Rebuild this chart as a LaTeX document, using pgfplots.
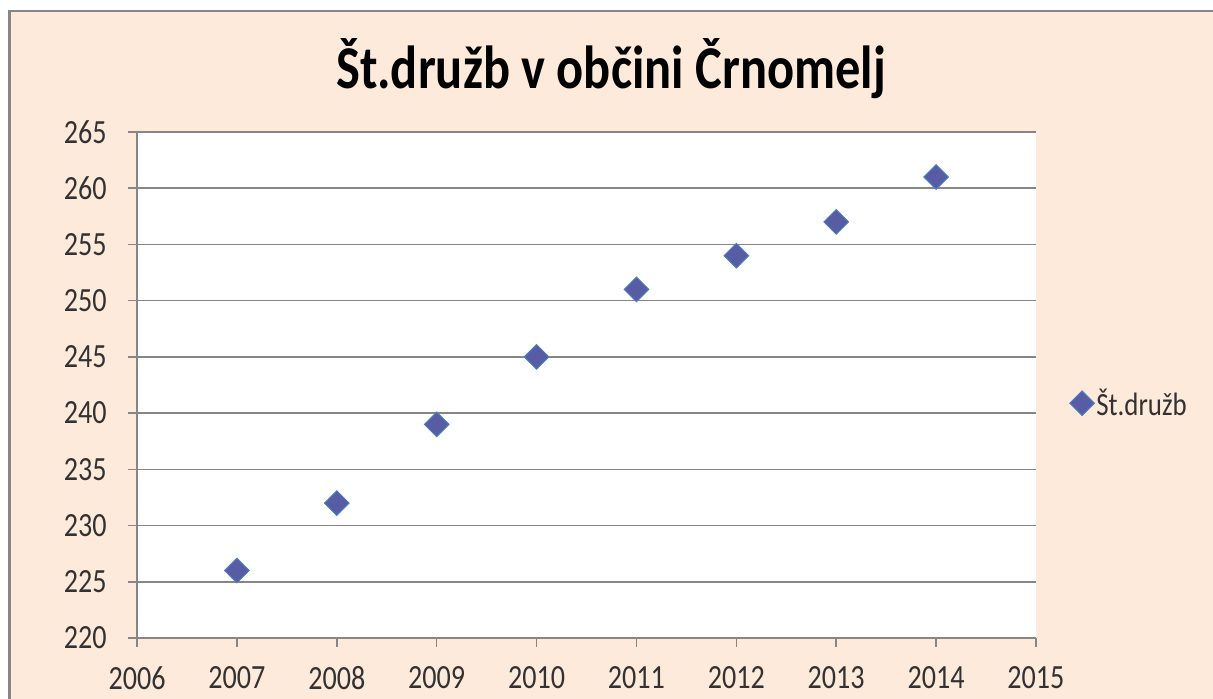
\documentclass[border=0pt]{standalone}
\usepackage{fontspec}
\setmainfont{Carlito}[FakeStretch=0.83]
\usepackage{pgfplots}
\pgfplotsset{compat=1.18}
\definecolor{peach}{RGB}{253,234,218}
\definecolor{gridgray}{RGB}{134,134,134}
\definecolor{mkfill}{RGB}{88,92,165}
\definecolor{mkdraw}{RGB}{74,126,187}
\definecolor{lbl}{RGB}{50,50,50}
\begin{document}
\begin{tikzpicture}[x=1bp,y=1bp]
\useasboundingbox (0,0) rectangle (1213,699);
\fill[white] (0,0) rectangle (1213,699);
\fill[peach] (9,0) rectangle (1213,688);
\draw[gridgray,line width=2.5bp] (9.5,0) -- (9.5,688) -- (1213,688);
\node[font=\bfseries\fontsize{61}{70}\selectfont, anchor=base, inner sep=0pt] at (611,610) {Št.družb v občini Črnomelj};
\begin{axis}[
  at={(137bp,61bp)}, anchor=south west,
  width=899bp, height=506bp, scale only axis,
  xmin=2006, xmax=2015, ymin=220, ymax=265,
  xtick={2006,2007,...,2015}, ytick={220,225,...,265},
  axis background/.style={fill=white},
  axis x line*=bottom, axis y line*=left,
  axis line style={gridgray, line width=1.5bp},
  ymajorgrids, grid style={gridgray, line width=1.5bp},
  tick style={gridgray, line width=1.5bp},
  major tick length=9bp, tick align=outside,
  /pgf/number format/1000 sep={},
  /pgf/number format/assume math mode=true,
  tick label style={font=\fontsize{34}{40}\selectfont, text=lbl},
  yticklabel style={xshift=-18bp},
  xticklabel style={yshift=-16bp},
  legend style={at={(1.034,0.464)}, anchor=west, draw=none, fill=none,
    font=\fontsize{32.5}{38}\selectfont, text=lbl},
  legend cell align=left,
]
\addplot[only marks, mark=square*, mark size=8.7bp,
  mark options={rotate=45, fill=mkfill, draw=mkdraw, line width=1bp}]
  coordinates {(2007,226) (2008,232) (2009,239) (2010,245) (2011,251) (2012,254) (2013,257) (2014,261)};
\addlegendentry{Št.družb}
\end{axis}
\end{tikzpicture}
\end{document}
